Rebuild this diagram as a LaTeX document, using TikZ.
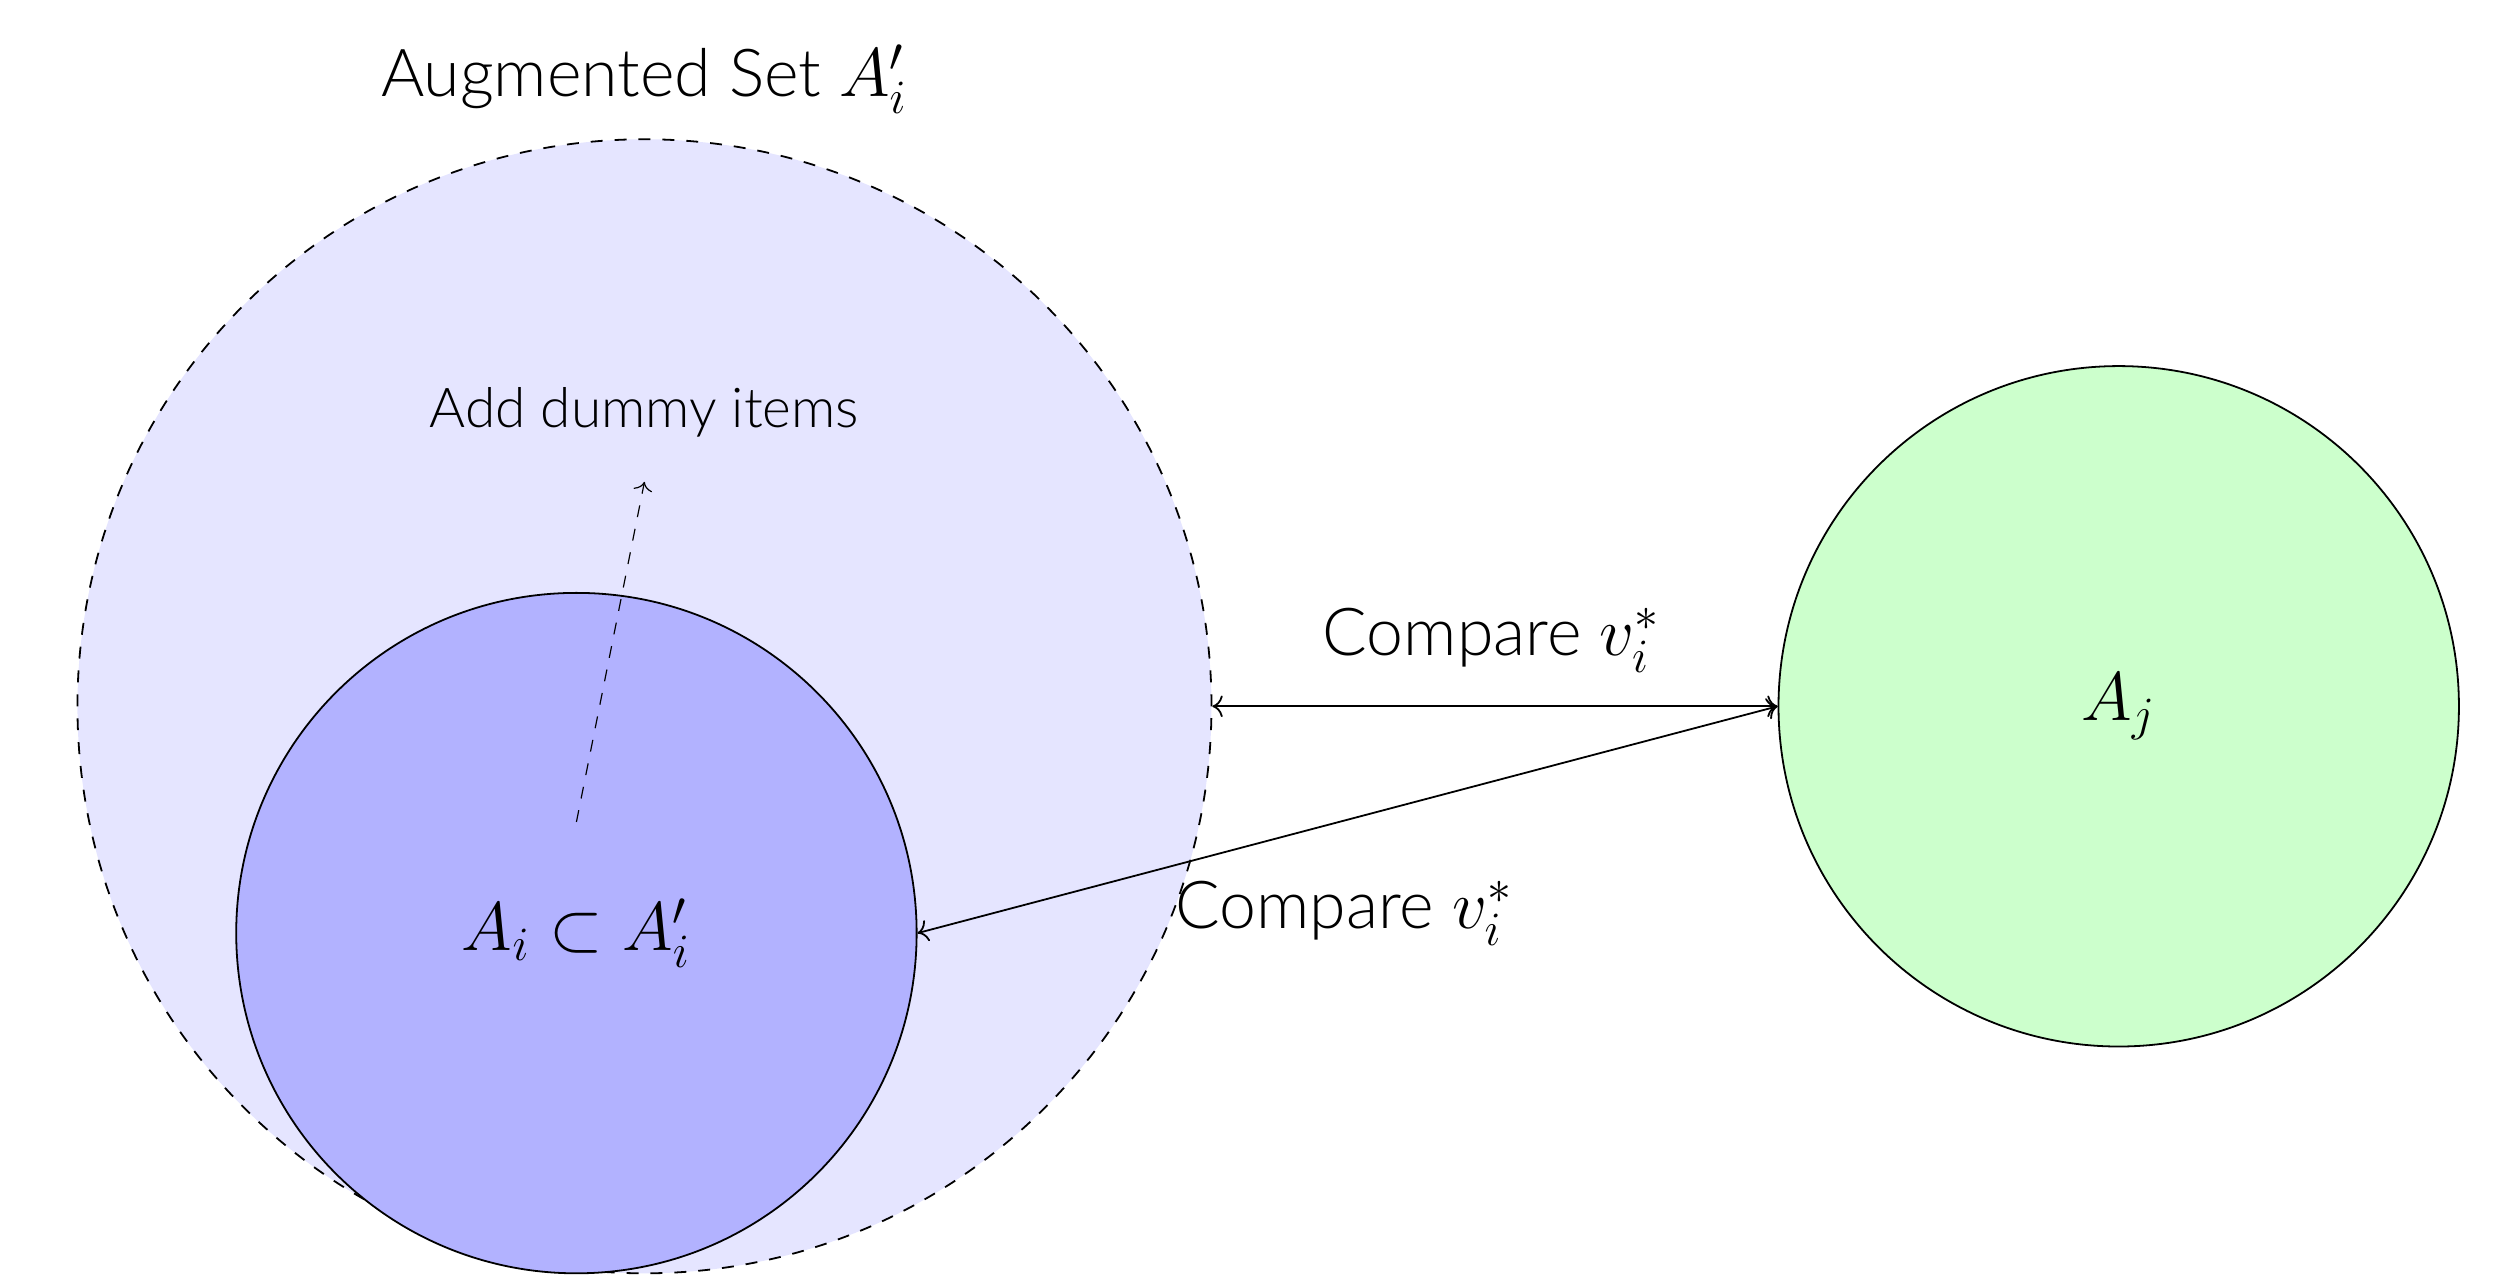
\documentclass[tikz,border=0pt]{standalone}
\usepackage{fontspec}
\setmainfont{Lato}[UprightFont=* Light, BoldFont=* Regular]
\usetikzlibrary{arrows.meta}
\tikzset{
  setline/.style={draw=black, line width=0.45pt},
  link/.style={<->, line width=0.45pt},
  hint/.style={->, dashed, line width=0.3pt},
  lbl/.style={inner sep=0pt, anchor=base},
  big/.style={font=\fontsize{16.6}{20}\selectfont},
}
\begin{document}
\begin{tikzpicture}
\useasboundingbox (-5.683,-5.041) rectangle (16.512,6.228);
% the augmented set and its subset
\node[circle, minimum size=10cm, fill=blue!10, draw, dashed, line width=0.45pt] (aug) at (0,0) {};
\node[circle, minimum size=6cm, fill=blue!30, setline, font=\LARGE] (ai) at (-0.6,-2) {$A_i \subset A'_i$};
% the other set
\node[circle, minimum size=6cm, fill=green!20, setline, font=\LARGE] (aj) at (13,0) {$A_j$};
% labels
\node[lbl, big] (augl) at (0,5.38) {Augmented Set $A'_i$};
\node[lbl, font=\fontsize{13.8}{16}\selectfont] (dummy) at (0,2.46) {Add dummy items};
\coordinate (dstart) at (-0.6,-1.02);
\coordinate (dend) at (0,1.98);
\draw[hint] (dstart) -- (dend);
% comparisons
\draw[link] (aug.east) -- (aj.west);
\draw[link] (ai.east) -- (aj.west);
\node[lbl, big] (c1) at (7.47,0.45) {Compare $v_i^*$};
\node[lbl, big] (c2) at (6.17,-1.955) {Compare $v_i^*$};
\end{tikzpicture}
\end{document}
